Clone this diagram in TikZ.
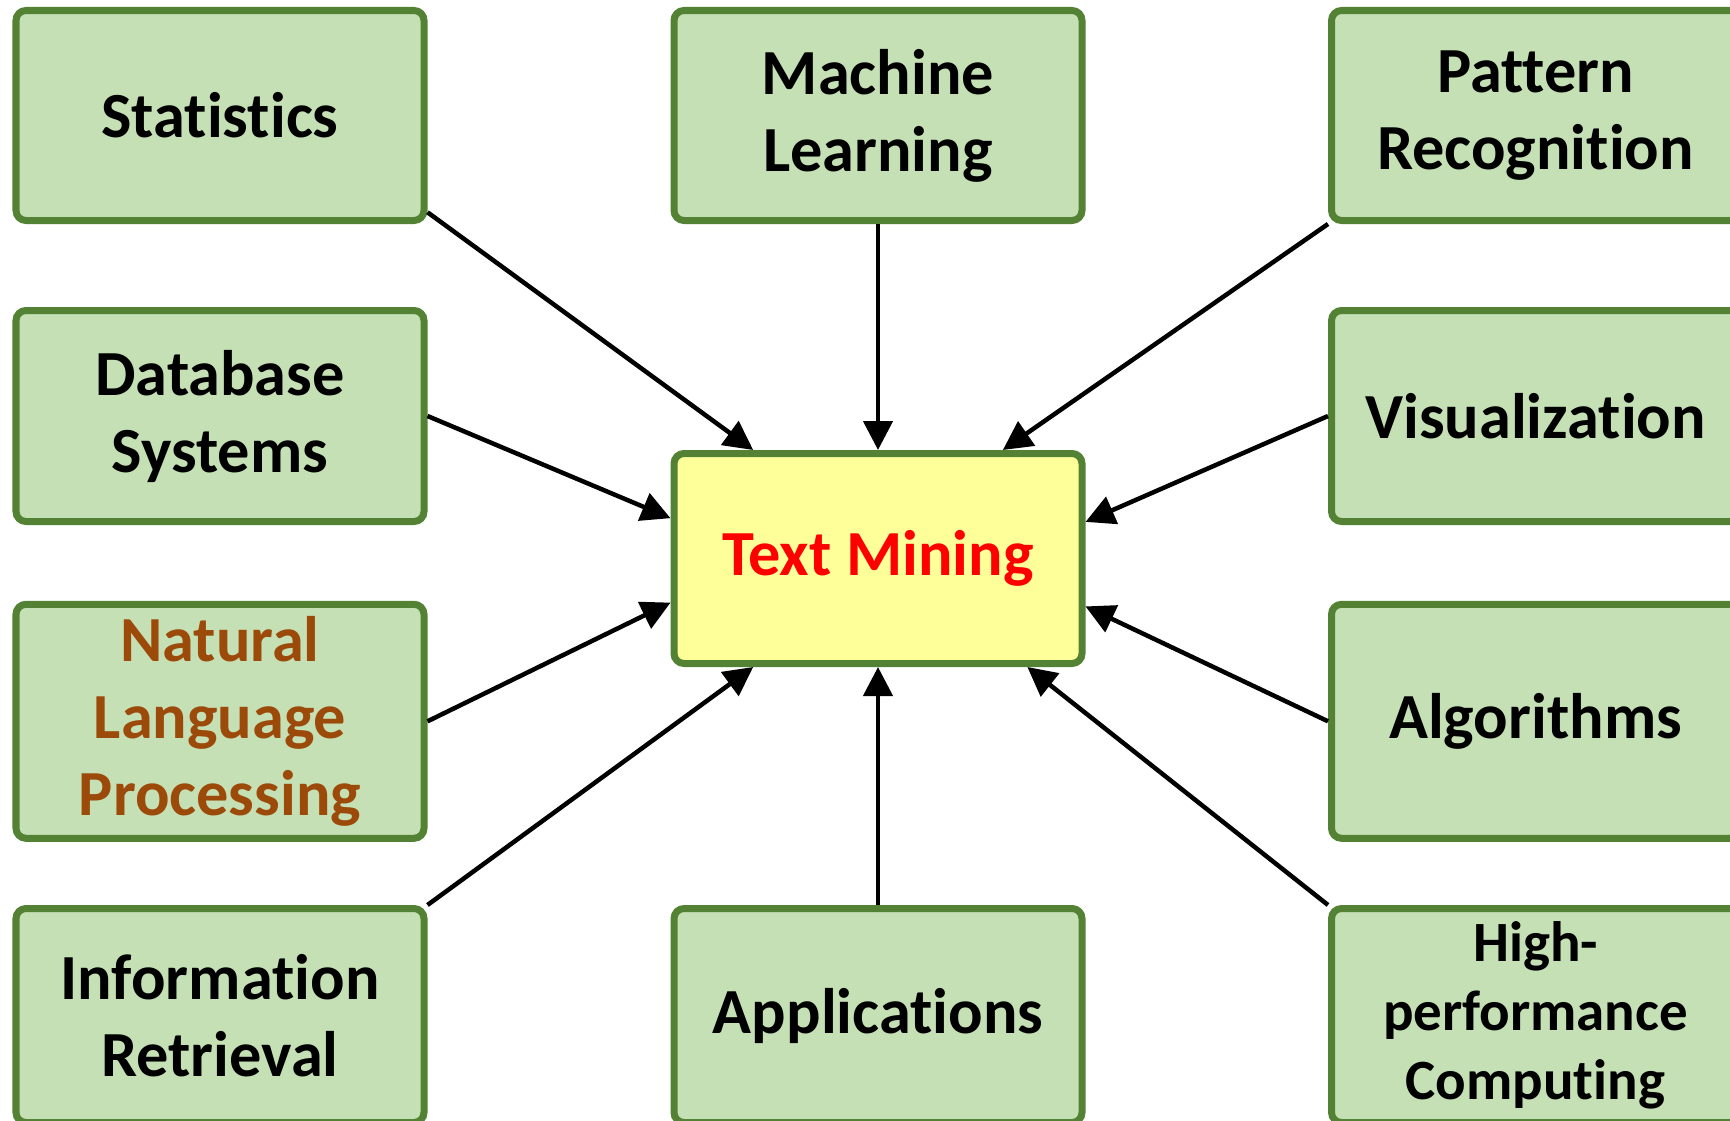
\documentclass[tikz,border=0pt]{standalone}
\usepackage{fontspec}
\setmainfont{Carlito}[Ligatures=NoCommon]
\usetikzlibrary{arrows.meta}

\definecolor{boxgreen}{RGB}{197,224,180}
\definecolor{edgegreen}{RGB}{84,130,53}
\definecolor{hubyellow}{RGB}{255,255,153}
\definecolor{nlpbrown}{RGB}{156,74,10}

\begin{document}
\begin{tikzpicture}[
    box/.style={draw=edgegreen, line width=0.07cm, fill=boxgreen, rounded corners=0.1cm,
      minimum width=4.08cm, minimum height=2.10cm, align=center,
      font=\fontsize{18.3}{21.9}\selectfont\bfseries},
    hub/.style={box, fill=hubyellow, text=red},
    link/.style={line width=0.045cm, -{Triangle[length=0.29cm, width=0.29cm]}}
  ]
  \useasboundingbox (0,0) rectangle (17.3,-11.2);
  % Outer boxes, left column
  \node[box] (stat) at (2.20,-1.155) {Statistics};
  \node[box, minimum height=2.11cm] (db) at (2.20,-4.16) {Database\\Systems};
  \node[box, minimum height=2.34cm, text=nlpbrown] (nlp) at (2.20,-7.213) {Natural\\Language\\Processing};
  \node[box, minimum height=2.14cm] (ir) at (2.20,-10.155) {Information\\Retrieval};
  % Middle column
  \node[box] (ml) at (8.78,-1.155) {Machine\\Learning};
  \node[hub] (tm) at (8.78,-5.585) {Text Mining};
  \node[box, minimum height=2.14cm] (app) at (8.78,-10.155) {Applications};
  % Right column
  \node[box] (pat) at (15.355,-1.155) {Pattern\\Recognition};
  \node[box, minimum height=2.11cm] (vis) at (15.355,-4.16) {Visualization};
  \node[box, minimum height=2.34cm] (alg) at (15.355,-7.213) {Algorithms};
  \node[box, minimum height=2.14cm, font=\fontsize{16.2}{19.6}\selectfont\bfseries] (hpc) at (15.355,-10.155) {High-\\performance\\Computing};
  % Arrows into Text Mining
  \draw[link] (stat.335) -- (tm.139);
  \draw[link] (ml.south) -- (tm.north);
  \draw[link] (pat.south west) -- (tm.41);
  \draw[link] (db.east) -- (tm.169.7);
  \draw[link] (vis.west) -- (tm.10.3);
  \draw[link] (nlp.east) -- (tm.192.7);
  \draw[link] (alg.west) -- (tm.347.3);
  \draw[link] (ir.north east) -- (tm.221.4);
  \draw[link] (app.north) -- (tm.south);
  \draw[link] (hpc.north west) -- (tm.324.1);
\end{tikzpicture}
\end{document}
